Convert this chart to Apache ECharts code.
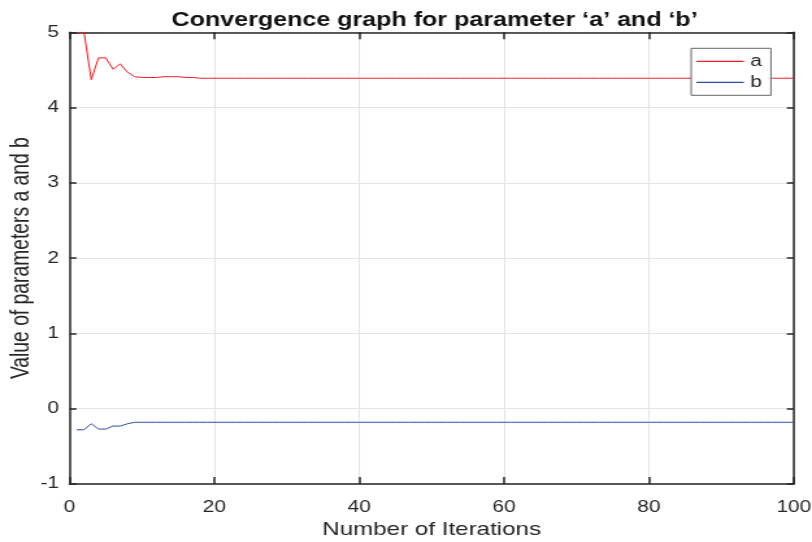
<!DOCTYPE html>
<html>
<head>
<meta charset="utf-8">
<script src="https://cdn.jsdelivr.net/npm/echarts@6/dist/echarts.min.js"></script>
<style>
html, body { margin: 0; padding: 0; background: #fff; overflow: hidden; }
#wrap { width: 812px; height: 542px; overflow: hidden; }
#chart { width: 625px; height: 542px; transform: scaleX(1.2992); transform-origin: 0 0; }
</style>
</head>
<body>
<div id="wrap"><div id="chart"></div></div>
<script>
// ---- data ----
const title = 'Convergence graph for parameter \u2018a\u2019 and \u2018b\u2019';
const xName = 'Number of Iterations';
const yName = 'Value of parameters a and b';
const seriesNames = ['a', 'b'];
const xTicks = [0, 20, 40, 60, 80, 100];
const yTicks = [-1, 0, 1, 2, 3, 4, 5];
const firstIteration = 1;

const aValues = [
  5.00, 5.00, 4.37, 4.66, 4.66, 4.51, 4.58, 4.47, 4.41, 4.40,
  4.40, 4.40, 4.41, 4.41, 4.41, 4.40, 4.40, 4.39, 4.39, 4.39,
  4.39, 4.39, 4.39, 4.39, 4.39, 4.39, 4.39, 4.39, 4.39, 4.39,
  4.39, 4.39, 4.39, 4.39, 4.39, 4.39, 4.39, 4.39, 4.39, 4.39,
  4.39, 4.39, 4.39, 4.39, 4.39, 4.39, 4.39, 4.39, 4.39, 4.39,
  4.39, 4.39, 4.39, 4.39, 4.39, 4.39, 4.39, 4.39, 4.39, 4.39,
  4.39, 4.39, 4.39, 4.39, 4.39, 4.39, 4.39, 4.39, 4.39, 4.39,
  4.39, 4.39, 4.39, 4.39, 4.39, 4.39, 4.39, 4.39, 4.39, 4.39,
  4.39, 4.39, 4.39, 4.39, 4.39, 4.39, 4.39, 4.39, 4.39, 4.39,
  4.39, 4.39, 4.39, 4.39, 4.39, 4.39, 4.39, 4.39, 4.39, 4.39
];
const bValues = [
  -0.28, -0.28, -0.20, -0.27, -0.27, -0.23, -0.23, -0.20, -0.18, -0.18,
  -0.18, -0.18, -0.18, -0.18, -0.18, -0.18, -0.18, -0.18, -0.18, -0.18,
  -0.18, -0.18, -0.18, -0.18, -0.18, -0.18, -0.18, -0.18, -0.18, -0.18,
  -0.18, -0.18, -0.18, -0.18, -0.18, -0.18, -0.18, -0.18, -0.18, -0.18,
  -0.18, -0.18, -0.18, -0.18, -0.18, -0.18, -0.18, -0.18, -0.18, -0.18,
  -0.18, -0.18, -0.18, -0.18, -0.18, -0.18, -0.18, -0.18, -0.18, -0.18,
  -0.18, -0.18, -0.18, -0.18, -0.18, -0.18, -0.18, -0.18, -0.18, -0.18,
  -0.18, -0.18, -0.18, -0.18, -0.18, -0.18, -0.18, -0.18, -0.18, -0.18,
  -0.18, -0.18, -0.18, -0.18, -0.18, -0.18, -0.18, -0.18, -0.18, -0.18,
  -0.18, -0.18, -0.18, -0.18, -0.18, -0.18, -0.18, -0.18, -0.18, -0.18
];

// ---- styling ----
const FONT = "'Liberation Sans', Arial, Helvetica, sans-serif";
const AX = '#262626';
const GRIDC = '#e5e5e5';
const colors = ['#ee1d25', '#2b4ea6'];

const toPairs = vals => vals.map((v, i) => [firstIteration + i, v]);

const xMin = xTicks[0], xMax = xTicks[xTicks.length - 1], xInt = xTicks[1] - xTicks[0];
const yMin = yTicks[0], yMax = yTicks[yTicks.length - 1], yInt = yTicks[1] - yTicks[0];

function xAxisDef(pos, main) {
  return {
    type: 'value', position: pos, min: xMin, max: xMax, interval: xInt,
    axisLine: { show: true, onZero: false, lineStyle: { color: AX, width: 1.5 } },
    axisTick: { show: true, inside: true, length: 7, lineStyle: { color: AX, width: 1.5 } },
    axisLabel: { show: main, fontSize: 16, color: AX, fontFamily: FONT, margin: 16 },
    splitLine: { show: main, lineStyle: { color: GRIDC, width: 1 } },
    name: main ? xName : '', nameLocation: 'middle', nameGap: 36, nameMoveOverlap: false,
    nameTextStyle: { fontSize: 18.6, color: AX, fontFamily: FONT }
  };
}
function yAxisDef(pos, main) {
  return {
    type: 'value', position: pos, min: yMin, max: yMax, interval: yInt,
    axisLine: { show: true, onZero: false, lineStyle: { color: AX, width: 1.5 } },
    axisTick: { show: true, inside: true, length: 5.4, lineStyle: { color: AX, width: 1.5 } },
    axisLabel: { show: main, fontSize: 16, color: AX, fontFamily: FONT, margin: 8 },
    splitLine: { show: main, lineStyle: { color: GRIDC, width: 1 } },
    name: main ? yName : '', nameLocation: 'middle', nameGap: 27, nameMoveOverlap: false,
    nameTextStyle: { fontSize: 19.3, color: AX, fontFamily: FONT }
  };
}

const chart = echarts.init(document.getElementById('chart'), null, { renderer: 'canvas' });
chart.setOption({
  animation: false,
  backgroundColor: '#ffffff',
  title: {
    text: title, left: 329.5, top: 6, textAlign: 'center',
    textStyle: { fontSize: 19.3, fontWeight: 'bold', color: '#111', fontFamily: FONT }
  },
  grid: { left: 53.5, right: 14, top: 32.3, bottom: 58, containLabel: false, outerBoundsMode: 'none' },
  xAxis: [xAxisDef('bottom', true), xAxisDef('top', false)],
  yAxis: [yAxisDef('left', true), yAxisDef('right', false)],
  legend: {
    orient: 'vertical', left: 532, top: 48.3,
    padding: [5, 7, 5, 4], itemGap: 5,
    itemWidth: 36.5, itemHeight: 1.2, icon: 'rect',
    backgroundColor: '#ffffff', borderColor: '#666666', borderWidth: 1,
    textStyle: { fontSize: 16, color: AX, fontFamily: FONT },
    data: seriesNames
  },
  series: [
    { name: seriesNames[0], type: 'line', xAxisIndex: 0, yAxisIndex: 0, data: toPairs(aValues),
      symbol: 'none', showSymbol: false, color: colors[0], lineStyle: { width: 1, color: colors[0] } },
    { name: seriesNames[1], type: 'line', xAxisIndex: 0, yAxisIndex: 0, data: toPairs(bValues),
      symbol: 'none', showSymbol: false, color: colors[1], lineStyle: { width: 1, color: colors[1] } }
  ]
});
</script>
</body>
</html>
